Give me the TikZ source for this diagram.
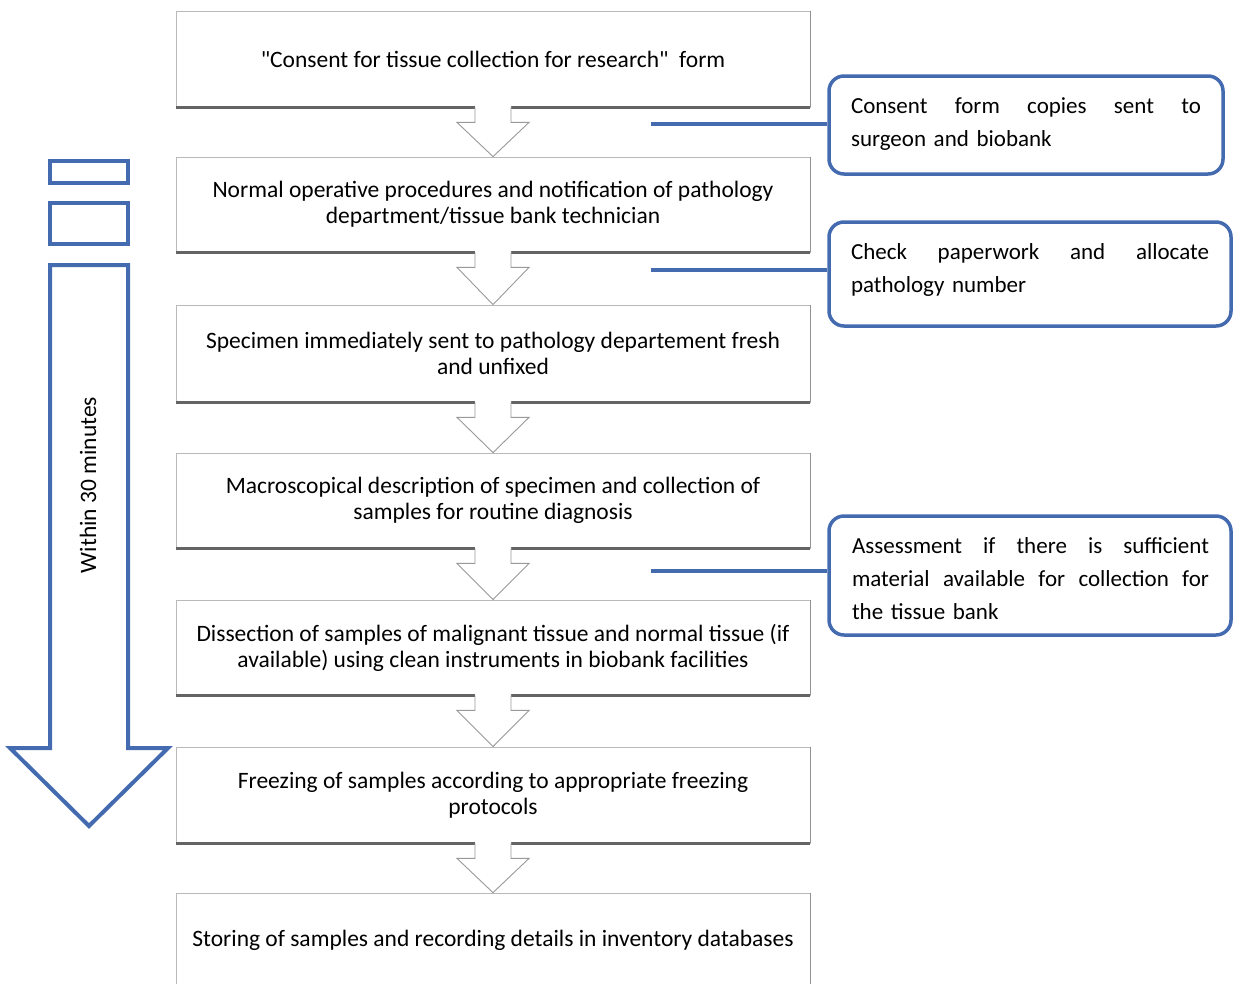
\documentclass[tikz,border=0pt]{standalone}
\usepackage{fontspec}
\setmainfont{Carlito}[Ligatures=TeXOff]
\usetikzlibrary{calc}
\definecolor{blu}{RGB}{68,107,176}
\definecolor{shad}{RGB}{100,100,100}
\definecolor{edge}{RGB}{185,185,185}
\newcommand{\mychev}[2]{%
  \fill[white] ($(#1.south)+(-18,-2)$) -- ($(#1.south)+(-18,15)$) -- ($(#1.south)+(-36,15)$) -- (#2.north) -- ($(#1.south)+(36,15)$) -- ($(#1.south)+(18,15)$) -- ($(#1.south)+(18,-2)$) -- cycle;
  \draw[chev] ($(#1.south)+(-18,0)$) -- ($(#1.south)+(-18,15)$) -- ($(#1.south)+(-36,15)$) -- (#2.north) -- ($(#1.south)+(36,15)$) -- ($(#1.south)+(18,15)$) -- ($(#1.south)+(18,0)$);
}
\newcommand{\jline}[2]{\leavevmode\hbox to #1{#2}}
\begin{document}
\begin{tikzpicture}[x=1pt,y=-1pt,
  mainbox/.style={draw=edge, line width=0.8pt, fill=white, minimum width=634pt, align=center,
    font=\fontsize{23.5}{26}\selectfont, inner sep=0pt},
  shadowline/.style={draw=shad, line width=2.6pt},
  shadowright/.style={draw=shad!70, line width=1.4pt},
  chev/.style={draw=gray!80, line width=0.9pt, line join=miter},
  sidebox/.style={draw=blu, line width=3.5pt, rounded corners=15pt, fill=white, inner sep=0pt},
  sidetext/.style={font=\fontsize{23}{33}\selectfont, text width=#1, align=left, inner sep=0pt},
  conn/.style={draw=blu, line width=3.5pt},
  bigarrow/.style={draw=blu, line width=4pt, fill=white, line join=miter},
  smallrect/.style={draw=blu, line width=4pt, fill=white}
]
\useasboundingbox (0,0) rectangle (1233,983);
\clip (0,0) rectangle (1233,983);

% main boxes
\node[mainbox, minimum height=96pt] (b1) at (493,59) {"Consent for tissue collection for research"~~form};
\node[mainbox, minimum height=95pt] (b2) at (493,204.5) {Normal operative procedures and notification of pathology\\department/tissue bank technician};
\node[mainbox, minimum height=97pt] (b3) at (493,353.5) {Specimen immediately sent to pathology departement fresh\\and unfixed};
\node[mainbox, minimum height=95pt] (b4) at (493,500.5) {Macroscopical description of specimen and collection of\\samples for routine diagnosis};
\node[mainbox, minimum height=95pt] (b5) at (493,647.5) {Dissection of samples of malignant tissue and normal tissue (if\\available) using clean instruments in biobank facilities};
\node[mainbox, minimum height=96pt] (b6) at (493,795) {Freezing of samples according to appropriate freezing\\protocols};
\node[mainbox, minimum height=94pt] (b7) at (493,940) {Storing of samples and recording details in inventory databases};

\foreach \b in {b1,b2,b3,b4,b5,b6}{
  \draw[shadowright] (\b.north east) -- (\b.south east);
  \draw[shadowline] (\b.south east) -- (\b.south west);
}
\draw[shadowright] (b7.north east) -- (b7.south east);

\mychev{b1}{b2}
\mychev{b2}{b3}
\mychev{b3}{b4}
\mychev{b4}{b5}
\mychev{b5}{b6}
\mychev{b6}{b7}

% left arrow
\draw[bigarrow] (50,265) -- (50,748) -- (10,748) -- (89,826) -- (168,748) -- (128,748) -- (128,265) -- cycle;
\draw[smallrect] (50,161) rectangle (128,183);
\draw[smallrect] (50,203) rectangle (128,244);
\node[rotate=90, font=\fontsize{23.5}{26}\selectfont, inner sep=0pt] (lbl) at (88,485) {Within 30 minutes};

% side boxes
\node[sidebox, minimum width=394pt, minimum height=98pt] (s1) at (1026,125) {};
\node[sidebox, minimum width=402pt, minimum height=104pt] (s2) at (1030,274) {};
\node[sidebox, minimum width=402pt, minimum height=119pt] (s3) at (1030,575.5) {};

\node[sidetext=350pt] (t1) at (1026,124.5) {\jline{350pt}{Consent\hfill form\hfill copies\hfill sent\hfill to}\\surgeon and biobank};
\node[sidetext=358pt] (t2) at (1030,269.5) {\jline{358pt}{Check\hfill paperwork\hfill and\hfill allocate}\\pathology number};
\node[sidetext=357pt] (t3) at (1030.5,579) {\jline{357pt}{Assessment\hfill if\hfill there\hfill is\hfill sufficient}\\\jline{357pt}{material\hfill available\hfill for\hfill collection\hfill for}\\the tissue bank};

% connectors
\coordinate (c1) at (651,124);
\coordinate (c2) at (651,270);
\coordinate (c3) at (651,571);
\draw[conn] (c1) -- (c1 -| s1.west);
\draw[conn] (c2) -- (c2 -| s2.west);
\draw[conn] (c3) -- (c3 -| s3.west);
\end{tikzpicture}
\end{document}
